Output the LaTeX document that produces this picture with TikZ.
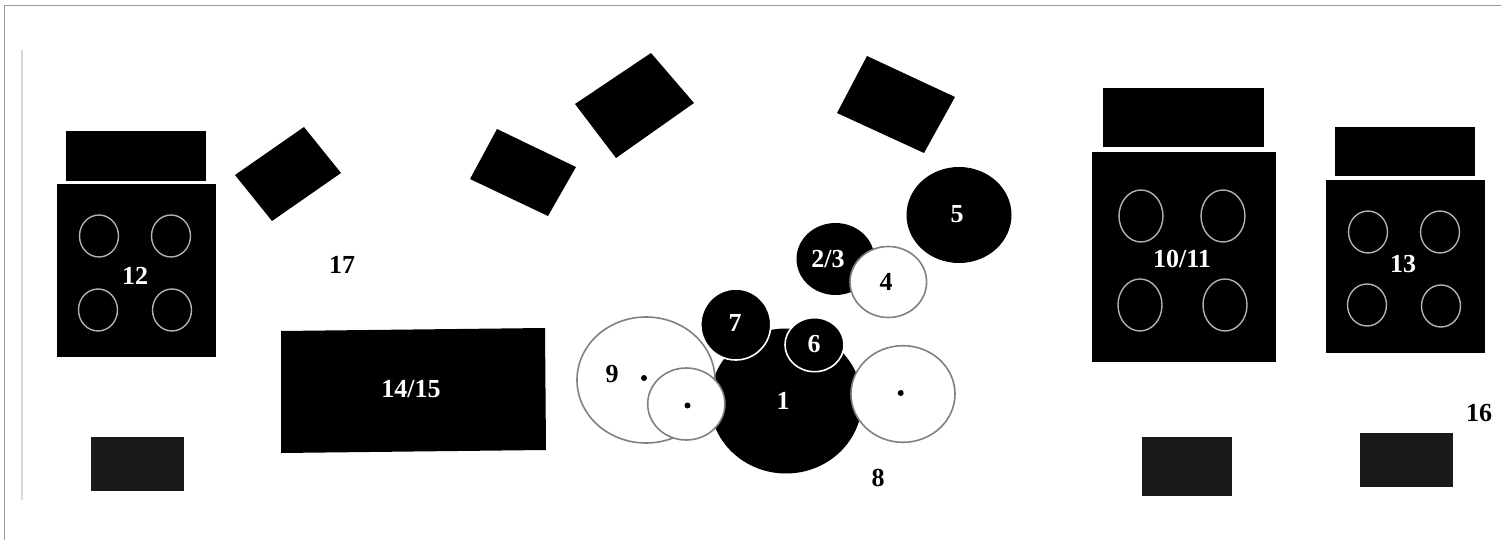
\documentclass[tikz,border=0pt]{standalone}
\usepackage{fontspec}
\setmainfont{Liberation Serif}
\definecolor{ring}{gray}{0.5}
\definecolor{softblack}{gray}{0.1}
\tikzset{
  blk/.style={fill=black,draw=none},
  soft/.style={fill=softblack,draw=none},
  openring/.style={fill=white,draw=ring,line width=0.8pt},
  burner/.style={draw=white!70!black,line width=0.7pt},
  whiterim/.style={fill=black,draw=white,line width=0.8pt},
  wlab/.style={text=white,font=\bfseries\fontsize{13}{15}\selectfont,inner sep=0pt},
  klab/.style={text=black,font=\bfseries\fontsize{13}{15}\selectfont,inner sep=0pt},
  frameline/.style={draw=black!40,line width=0.9pt},
  guide/.style={draw=black!15,line width=0.6pt}
}
\begin{document}
\begin{tikzpicture}[x=0.5pt,y=-0.5pt]
\path[use as bounding box,fill=white] (0,0) rectangle (1501,540);
% frame
\coordinate (fa) at (4.5,540); \coordinate (fb) at (4.5,5.5); \coordinate (fc) at (1501,5.5);
\draw[frameline] (fa) -- (fb) -- (fc);
\coordinate (ga) at (22,50); \coordinate (gb) at (22,500);
\draw[guide] (ga) -- (gb);
% left appliance
\path[blk] (66,131) rectangle (206,181);
\path[blk] (57,184) rectangle (216,357);
\foreach \p in {(99,236),(171,236),(98,310),(172,310)} \draw[burner] \p ellipse [x radius=19.5,y radius=21];
% tilted tables
\path[blk] (304,127) -- (341,173) -- (272,221) -- (235,175) -- cycle;
\path[blk] (497,129) -- (576,167) -- (548,216) -- (470,179) -- cycle;
\path[blk] (651,53) -- (694,103) -- (616,158) -- (575,104) -- cycle;
\path[blk] (867,56) -- (955,97) -- (924,153) -- (837,113) -- cycle;
% central table
\path[blk] (281,331) -- (545,328) -- (546,450) -- (281,453) -- cycle;
% dark squares
\path[soft] (91,437) rectangle (184,491);
\path[soft] (1142,437) rectangle (1232,496);
\path[soft] (1360,433) rectangle (1453,487);
% right appliances
\path[blk] (1103,88) rectangle (1264,147);
\path[blk] (1092,152) rectangle (1276,362);
\foreach \p in {(1141,216),(1223,216),(1140,305),(1225,305)} \draw[burner] \p ellipse [x radius=22,y radius=26];
\path[blk] (1335,127) rectangle (1475,176);
\path[blk] (1326,180) rectangle (1485,353);
\foreach \p in {(1368,232),(1440,232),(1367,305),(1441,306)} \draw[burner] \p ellipse [x radius=19.5,y radius=21];
% circles
\path[blk] (786,401) ellipse [x radius=76,y radius=72.5];
\path[blk] (959,215) ellipse [x radius=52.5,y radius=48];
\path[blk] (835.5,259) ellipse [x radius=39,y radius=36];
\draw[openring] (888.3,282) ellipse [x radius=38.3,y radius=35.5];
\draw[openring] (646,380) ellipse [x radius=69,y radius=63];
\draw[openring] (686.3,404) ellipse [x radius=38.6,y radius=36];
\draw[openring] (903,394) ellipse [x radius=52,y radius=48.3];
\draw[whiterim] (735.8,324.5) ellipse [x radius=35,y radius=35.5];
\draw[whiterim] (814.5,344.7) ellipse [x radius=29.5,y radius=27];
\fill (644,378) circle [radius=3];
\fill (687.5,405.5) circle [radius=3];
\fill (900.7,393) circle [radius=3];
% labels
\node[wlab] (l1) at (783,401) {1};
\node[wlab] (l23) at (828,259) {2/3};
\node[klab] (l4) at (886,282) {4};
\node[wlab] (l5) at (957,214) {5};
\node[wlab] (l6) at (814,344) {6};
\node[wlab] (l7) at (735,323) {7};
\node[klab] (l8) at (878,478) {8};
\node[klab] (l9) at (612,374) {9};
\node[wlab] (l1011) at (1182,259) {10/11};
\node[wlab] (l12) at (135,276) {12};
\node[wlab] (l13) at (1403,264) {13};
\node[wlab] (l1415) at (411,389) {14/15};
\node[klab] (l16) at (1479,413) {16};
\node[klab] (l17) at (342,265) {17};
\end{tikzpicture}
\end{document}
